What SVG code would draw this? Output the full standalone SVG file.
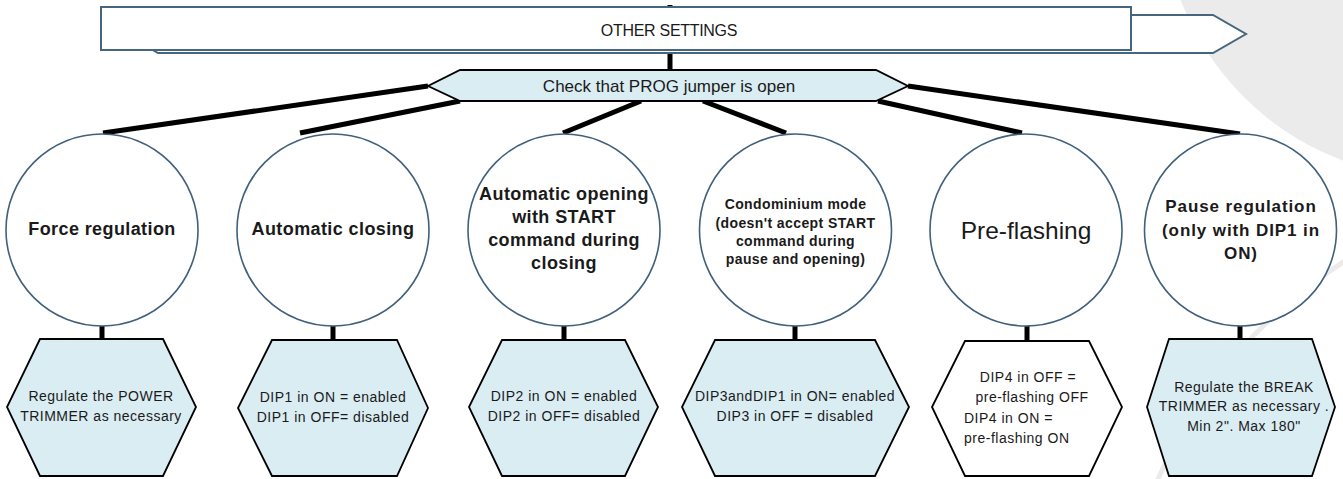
<svg xmlns="http://www.w3.org/2000/svg" width="1343" height="479" viewBox="0 0 1343 479">
<defs>
<style>
.bg{fill:#ebebeb}
.wm{fill:none;stroke:#ebebeb;stroke-width:5}
.hdr{fill:#ffffff;stroke:#46657f;stroke-width:2}
.conn{stroke:#000;stroke-width:5;fill:none}
.circ{fill:#ffffff;stroke:#41607c;stroke-width:1.6}
.hex{fill:#daedf3;stroke:#000;stroke-width:1.8}
.hexw{fill:#ffffff;stroke:#000;stroke-width:1.8}
.t{font-family:"Liberation Sans",Arial,sans-serif;fill:#1a1a1a;text-anchor:middle}
.b18{font-size:18px;font-weight:bold;letter-spacing:0.4px}
.b14{font-size:14px;font-weight:bold;letter-spacing:0.4px}
.b17{font-size:17px;font-weight:bold;letter-spacing:0.9px}
.r14{font-size:14px;letter-spacing:0.5px}
</style>
</defs>
<rect width="1343" height="479" fill="#ffffff"/>
<g id="watermark">
<circle class="bg" cx="1440" cy="-100" r="278"/>
<path class="wm" d="M1345,261 Q1220,340 1157,481"/>
</g>
<g id="connectors">
<line class="conn" x1="670" y1="5" x2="670" y2="72"/>
<line class="conn" x1="428" y1="86" x2="103" y2="133"/>
<line class="conn" x1="460" y1="101" x2="300" y2="133"/>
<line class="conn" x1="641" y1="101" x2="563" y2="133"/>
<line class="conn" x1="703" y1="101" x2="786" y2="133"/>
<line class="conn" x1="878" y1="101" x2="1022" y2="133"/>
<line class="conn" x1="908" y1="86" x2="1240" y2="134"/>
<line class="conn" x1="102" y1="325" x2="102" y2="340"/>
<line class="conn" x1="333" y1="325" x2="333" y2="341"/>
<line class="conn" x1="564" y1="325" x2="564" y2="341"/>
<line class="conn" x1="795" y1="325" x2="795" y2="341"/>
<line class="conn" x1="1027" y1="325" x2="1027" y2="341"/>
<line class="conn" x1="1240" y1="325" x2="1240" y2="340"/>
</g>
<g id="header">
<polygon class="hdr" points="158,15 1213,15 1246,34 1213,53 158,53 125,34"/>
<rect class="hdr" x="101" y="7" width="1030" height="43"/>
<text class="t" x="669" y="36" font-size="16" letter-spacing="-0.3">OTHER SETTINGS</text>
</g>
<g id="prog">
<polygon class="hex" points="460,70 876,70 908,86 876,101 460,101 428,86"/>
<text class="t" x="669" y="92" font-size="17">Check that PROG jumper is open</text>
</g>
<g id="n1">
<circle class="circ" cx="102" cy="230" r="96"/>
<text class="t b18" x="102" y="235">Force regulation</text>
</g>
<g id="n2">
<circle class="circ" cx="333" cy="230" r="96"/>
<text class="t b18" x="333" y="235">Automatic closing</text>
</g>
<g id="n3">
<circle class="circ" cx="564" cy="230" r="96"/>
<text class="t b18" x="564" y="200">Automatic opening</text>
<text class="t b18" x="564" y="223">with START</text>
<text class="t b18" x="564" y="246">command during</text>
<text class="t b18" x="564" y="269">closing</text>
</g>
<g id="n4">
<circle class="circ" cx="795.5" cy="230" r="96"/>
<text class="t b14" x="795.5" y="209">Condominium mode</text>
<text class="t b14" x="795.5" y="228">(doesn't accept START</text>
<text class="t b14" x="795.5" y="246">command during</text>
<text class="t b14" x="795.5" y="264">pause and opening)</text>
</g>
<g id="n5">
<circle class="circ" cx="1026" cy="230" r="96"/>
<text class="t" x="1026" y="239" font-size="24.5">Pre-flashing</text>
</g>
<g id="n6">
<circle class="circ" cx="1240.5" cy="230" r="96"/>
<text class="t b17" x="1241" y="212">Pause regulation</text>
<text class="t b17" x="1241" y="236">(only with DIP1 in</text>
<text class="t b17" x="1241" y="259">ON)</text>
</g>
<g id="h1">
<polygon class="hex" points="40,339 163,339 196,407 163,476 40,476 7,407"/>
<text class="t r14" x="101" y="401">Regulate the POWER</text>
<text class="t r14" x="101" y="421">TRIMMER as necessary</text>
</g>
<g id="h2">
<polygon class="hex" points="272,340 397,340 428,408 397,476 272,476 238,408"/>
<text class="t r14" x="333" y="402">DIP1 in ON = enabled</text>
<text class="t r14" x="333" y="422">DIP1 in OFF= disabled</text>
</g>
<g id="h3">
<polygon class="hex" points="502,340 625,340 658,407 625,476 502,476 469,407"/>
<text class="t r14" x="564" y="401">DIP2 in ON = enabled</text>
<text class="t r14" x="564" y="421">DIP2 in OFF= disabled</text>
</g>
<g id="h4">
<polygon class="hex" points="715,340 875,340 909,407 875,476 715,476 682,407"/>
<text class="t r14" x="795" y="401">DIP3andDIP1 in ON= enabled</text>
<text class="t r14" x="795" y="421">DIP3 in OFF = disabled</text>
</g>
<g id="h5">
<polygon class="hexw" points="965,341 1089,341 1122,407 1089,476 965,476 932,407"/>
<text class="t r14" x="1028" y="382">DIP4 in OFF =</text>
<text class="t r14" x="1032" y="402">pre-flashing OFF</text>
<text class="t r14" x="964" y="423" text-anchor="start" style="text-anchor:start">DIP4 in ON =</text>
<text class="t r14" x="964" y="443" style="text-anchor:start">pre-flashing ON</text>
</g>
<g id="h6">
<polygon class="hex" points="1169,339 1312,339 1335,407 1312,476 1169,476 1147,407"/>
<text class="t r14" x="1244" y="392">Regulate the BREAK</text>
<text class="t r14" x="1244" y="411">TRIMMER as necessary .</text>
<text class="t r14" x="1244" y="431">Min 2". Max 180"</text>
</g>
</svg>
